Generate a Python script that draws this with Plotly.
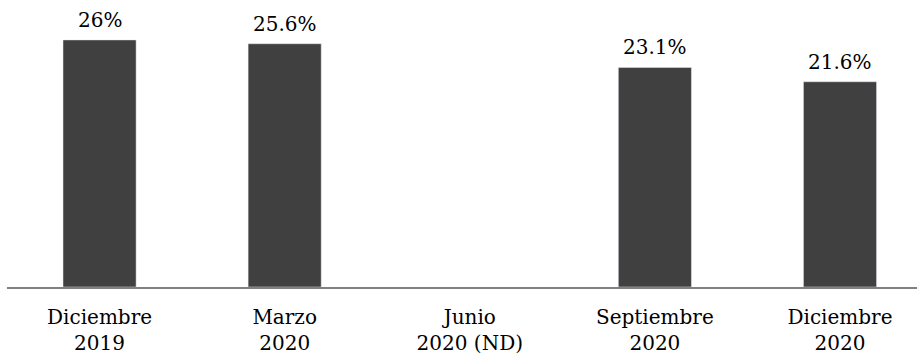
import plotly.graph_objects as go

categories = ["Diciembre<br>2019", "Marzo<br>2020", "Junio<br>2020 (ND)", "Septiembre<br>2020", "Diciembre<br>2020"]
values = [26, 25.6, None, 23.1, 21.6]
labels = ["26%", "25.6%", "", "23.1%", "21.6%"]

FONT = "DejaVu Serif"
xs = list(range(len(categories)))

fig = go.Figure(go.Bar(
    x=xs, y=values, marker_color="#404040", hoverinfo="skip",
))
for x, v, t in zip(xs, values, labels):
    if v is not None and t:
        fig.add_annotation(x=x, y=v, text=t, showarrow=False, yanchor="bottom",
                           yshift=6, font=dict(family=FONT, size=20, color="#000000"))
fig.update_layout(
    width=917, height=356,
    margin=dict(l=7, r=0, t=0, b=69),
    paper_bgcolor="white", plot_bgcolor="white",
    bargap=0.605, showlegend=False,
    font=dict(family=FONT, size=20, color="#000000"),
)
fig.update_xaxes(
    tickmode="array", tickvals=xs, ticktext=categories,
    range=[-0.5, 4.416], showline=True, linecolor="#808080", linewidth=1.5,
    ticks="", ticklabelstandoff=11, showgrid=False, zeroline=False,
)
fig.update_yaxes(range=[0, 30.2], visible=False, showgrid=False, zeroline=False)
fig.write_html("out.html")
